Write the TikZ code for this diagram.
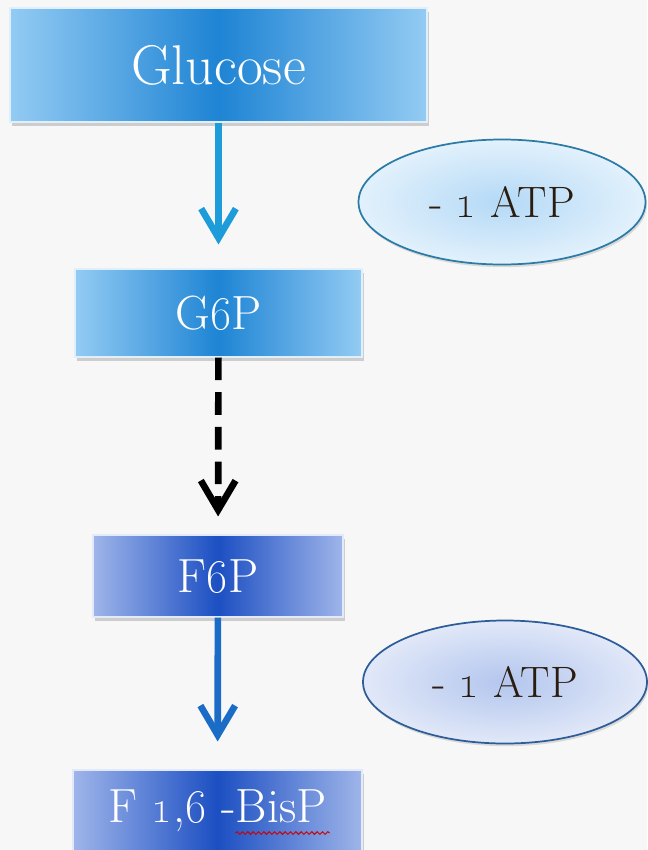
\documentclass[tikz,border=0pt]{standalone}
\usepackage{xcolor}
\definecolor{bgGray}{HTML}{F7F7F7}
\definecolor{skyEdge}{HTML}{93CBF3}
\definecolor{skyCore}{HTML}{1E84D4}
\definecolor{royalEdge}{HTML}{9FB5EA}
\definecolor{royalCore}{HTML}{1C4FC2}
\definecolor{arrowSky}{HTML}{1C9CD8}
\definecolor{arrowRoyal}{HTML}{1B6CC6}
\definecolor{ovalSkyIn}{HTML}{B4D9F6}
\definecolor{ovalSkyOut}{HTML}{E2F1FC}
\definecolor{ovalSkyLine}{HTML}{2A7CA6}
\definecolor{ovalRoyalIn}{HTML}{B3C6EE}
\definecolor{ovalRoyalOut}{HTML}{E1E8F8}
\definecolor{ovalRoyalLine}{HTML}{2C5D98}
\definecolor{atpText}{HTML}{2A1C0E}
\usepackage{tikz}
\usetikzlibrary{arrows.meta,shapes.geometric,shadows,calc,decorations.pathmorphing}
\tikzset{
  metabox/.style={rectangle, draw=white!70!skyEdge, line width=0.8pt, text=white,
    left color=skyEdge, right color=skyEdge, middle color=skyCore,
    drop shadow={opacity=0.35, shadow xshift=1.5pt, shadow yshift=-3pt},
    font=\fontsize{36}{40}\selectfont, inner sep=0pt},
  metaboxdark/.style={metabox, draw=white!70!royalEdge,
    left color=royalEdge, right color=royalEdge, middle color=royalCore},
  atpoval/.style={ellipse, draw=ovalSkyLine, line width=1.3pt, text=atpText,
    inner color=ovalSkyIn, outer color=ovalSkyOut,
    drop shadow={opacity=0.25, shadow xshift=1pt, shadow yshift=-2pt},
    font=\fontsize{33}{38}\selectfont, inner sep=0pt},
  atpovaldark/.style={atpoval, draw=ovalRoyalLine, inner color=ovalRoyalIn, outer color=ovalRoyalOut},
  flow/.style={line width=5pt, -{Straight Barb[length=22pt,width=26pt]}},
}

\begin{document}
\begin{tikzpicture}[x=0.75pt, y=-0.75pt]
  % canvas
  \useasboundingbox (0,0) rectangle (647,850);
  \fill[bgGray] (0,0) rectangle (647,850);
  % metabolites
  \node[metabox, minimum width=312.75pt, minimum height=85.5pt,
    font=\fontsize{42}{48}\selectfont] (glucose) at (218.5,65) {Glucose};
  \node[metabox, minimum width=215.25pt, minimum height=66pt] (g6p) at (218.5,313)
    {G\oldstylenums{6}P};
  \node[metaboxdark, minimum width=187.5pt, minimum height=61.5pt] (f6p) at (218,576)
    {F\oldstylenums{6}P};
  \node[metaboxdark, minimum width=216.75pt, minimum height=61.5pt] (bisp) at (217.5,811)
    {F \oldstylenums{1},\oldstylenums{6} -BisP};
  % spelling mark under BisP
  \draw[red!80!black, line width=0.7pt, decorate,
    decoration={snake, amplitude=1pt, segment length=4pt}]
    ($(bisp.center)+(18,22)$) coordinate (squigA) -- ($(bisp.center)+(112,22)$) coordinate (squigB);
  % energy cost
  \node[atpoval, minimum width=215.25pt, minimum height=93.75pt] (atpA) at (502,202)
    {- \oldstylenums{1} ATP};
  \node[atpovaldark, minimum width=213pt, minimum height=92.25pt] (atpB) at (505,682)
    {- \oldstylenums{1} ATP};
  % steps
  \draw[flow, arrowSky, shorten >=18pt] (glucose) -- (g6p);
  \draw[flow, black, dash pattern=on 17pt off 9pt, shorten >=13.5pt] (g6p) -- (f6p);
  \draw[flow, arrowRoyal, shorten >=21pt] (f6p) -- (bisp);
\end{tikzpicture}
\end{document}
